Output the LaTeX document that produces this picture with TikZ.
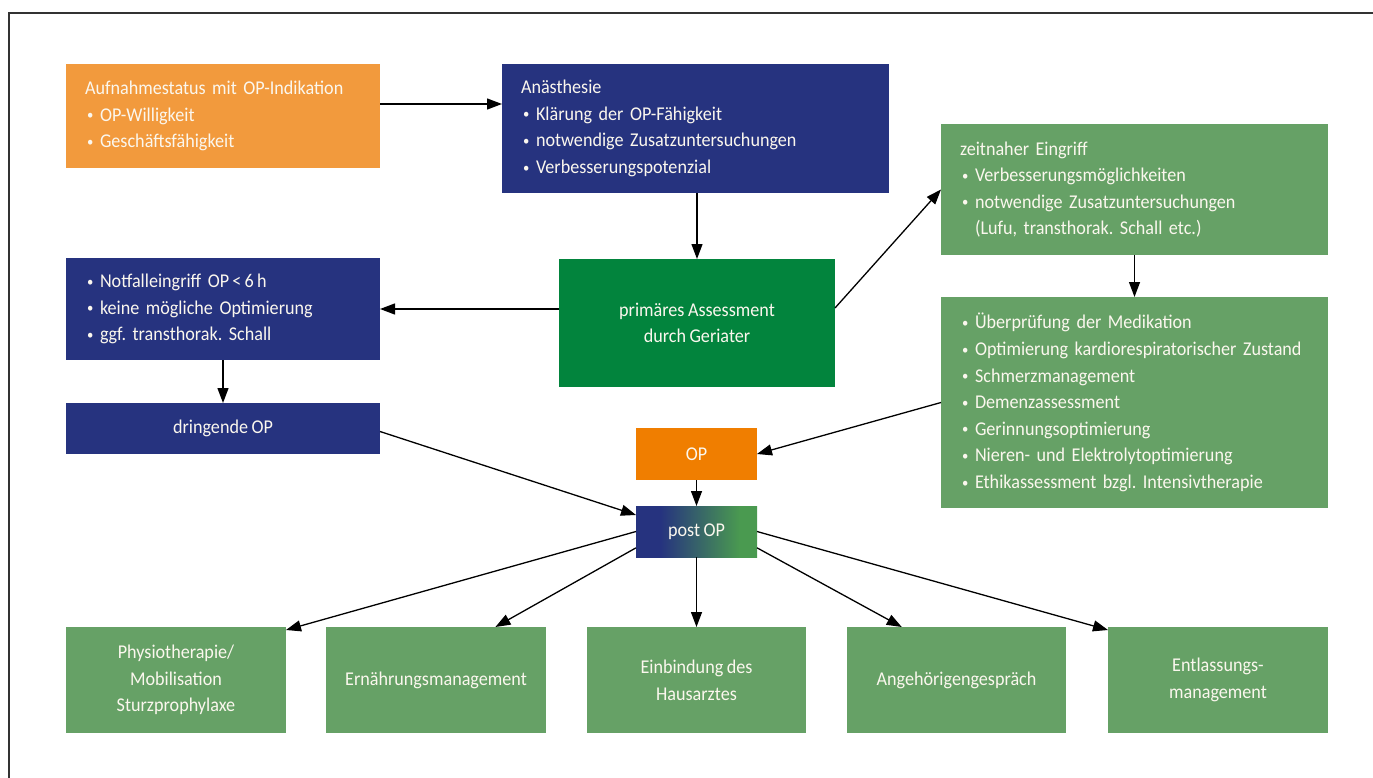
\documentclass[tikz,border=0pt]{standalone}
\usepackage{fontspec}
\setmainfont{Carlito}[FakeStretch=0.93,WordSpace=0.85]
\usepackage{graphicx}
\usetikzlibrary{arrows.meta,calc}
\definecolor{navyc}{HTML}{26337F}
\definecolor{lgreen}{HTML}{66A166}
\definecolor{dgreen}{HTML}{02843D}
\definecolor{lorange}{HTML}{F29A3D}
\definecolor{dorange}{HTML}{F07E00}
\definecolor{gpost}{HTML}{4A9A50}
\definecolor{txtc}{HTML}{FBF7EE}
\definecolor{bordc}{HTML}{333333}
\pgfdeclarehorizontalshading{postsh}{100bp}{color(0bp)=(navyc); color(35bp)=(navyc); color(68bp)=(gpost); color(100bp)=(gpost)}
\newcommand\bl{\makebox[15pt][l]{\hspace{2pt}\raisebox{0.15ex}{\scalebox{0.7}{•}}}}
\frenchspacing
\begin{document}
\begin{tikzpicture}[x=1pt,y=-1pt,
  box/.style={rectangle, anchor=north west, inner xsep=19pt, inner ysep=0pt, outer sep=0pt,
    text=txtc, font={\frenchspacing\fontsize{19.5}{26.6}\selectfont}},
  lbox/.style={box, align=left},
  cbox/.style={box, align=center},
  arr/.style={-{Triangle[length=15pt,width=11pt]}, line width=1.3pt, black}]
\useasboundingbox (0,0) rectangle (1373,778);
\fill[white] (0,0) rectangle (1373,778);
\draw[bordc, line width=1.6pt] (9,778) -- (9,13) -- (1373,13);

\node[lbox, fill=lorange, minimum width=314pt, minimum height=104pt, text width=276pt] (au) at (66,64)
  {Aufnahmestatus mit OP-Indikation\\ \bl OP-Willigkeit\\ \bl Geschäftsfähigkeit};
\node[lbox, fill=navyc, minimum width=387pt, minimum height=129pt, text width=349pt] (an) at (502,64)
  {Anästhesie\\ \bl Klärung der OP-Fähigkeit\\ \bl notwendige Zusatzuntersuchungen\\ \bl Verbesserungspotenzial};
\node[lbox, fill=lgreen, minimum width=387pt, minimum height=131pt, text width=349pt] (ze) at (941,124)
  {zeitnaher Eingriff\\ \bl Verbesserungsmöglichkeiten\\ \bl notwendige Zusatzuntersuchungen\\ \hspace*{15pt}(Lufu, transthorak. Schall etc.)};
\node[lbox, fill=lgreen, minimum width=387pt, minimum height=211pt, text width=349pt] (ub) at (941,297)
  {\bl Überprüfung der Medikation\\ \bl Optimierung kardiorespiratorischer Zustand\\ \bl Schmerzmanagement\\ \bl Demenzassessment\\ \bl Gerinnungsoptimierung\\ \bl Nieren- und Elektrolytoptimierung\\ \bl Ethikassessment bzgl. Intensivtherapie};
\node[cbox, fill=dgreen, minimum width=276pt, minimum height=128pt] (as) at (559,259)
  {primäres Assessment\\ durch Geriater};
\node[lbox, fill=navyc, minimum width=314pt, minimum height=102pt, text width=276pt] (nf) at (66,258)
  {\bl Notfalleingriff OP\,<\,6\,h\\ \bl keine mögliche Optimierung\\ \bl ggf. transthorak. Schall};
\node[cbox, fill=navyc, minimum width=314pt, minimum height=51pt] (dr) at (66,403) {dringende OP};
\node[cbox, fill=dorange, minimum width=121pt, minimum height=52pt] (op) at (636,428) {OP};
\node[cbox, shading=postsh, minimum width=121pt, minimum height=51pt] (po) at (636,506) {post OP};

\node[cbox, fill=lgreen, minimum width=220pt, minimum height=106pt] (ph) at (66,627)
  {Physiotherapie/\\ Mobilisation\\ Sturzprophylaxe};
\node[cbox, fill=lgreen, minimum width=220pt, minimum height=106pt] (er) at (326,627)
  {Ernährungsmanagement};
\node[cbox, fill=lgreen, minimum width=219pt, minimum height=106pt] (ei) at (587,627)
  {Einbindung des\\ Hausarztes};
\node[cbox, fill=lgreen, minimum width=219pt, minimum height=106pt] (ag) at (847,627)
  {Angehörigengespräch};
\node[cbox, fill=lgreen, minimum width=220pt, minimum height=106pt] (en) at (1108,627)
  {Entlassungs-\\ management};

\draw[arr] ([yshift=12pt]au.east) -- ([yshift=12pt]au.east -| an.west);
\draw[arr] (an.south -| as.north) -- (as.north);
\draw[arr] (nf.east -| as.west) -- (nf.east);
\draw[arr] ([yshift=15pt]as.east) -- (ze.west);
\draw[arr] (ze.south) -- (ub.north);
\draw[arr] (nf.south) -- (dr.north);
\draw[arr] (ub.west) -- (op.east);
\draw[arr] (op.south) -- (po.north);
\draw[arr] ([yshift=-3pt]dr.east) -- ([yshift=-9pt]po.north west);
\draw[arr] (po.west) -- ([yshift=-3pt]ph.north east);
\draw[arr] ($(po.north west)!0.82!(po.south west)$) -- ($(er.north west)!0.77!(er.north east)$);
\draw[arr] (po.south) -- (ei.north);
\draw[arr] ($(po.north east)!0.82!(po.south east)$) -- ($(ag.north west)!0.25!(ag.north east)$);
\draw[arr] (po.east) -- ([yshift=-3pt]en.north west);
\end{tikzpicture}
\end{document}
